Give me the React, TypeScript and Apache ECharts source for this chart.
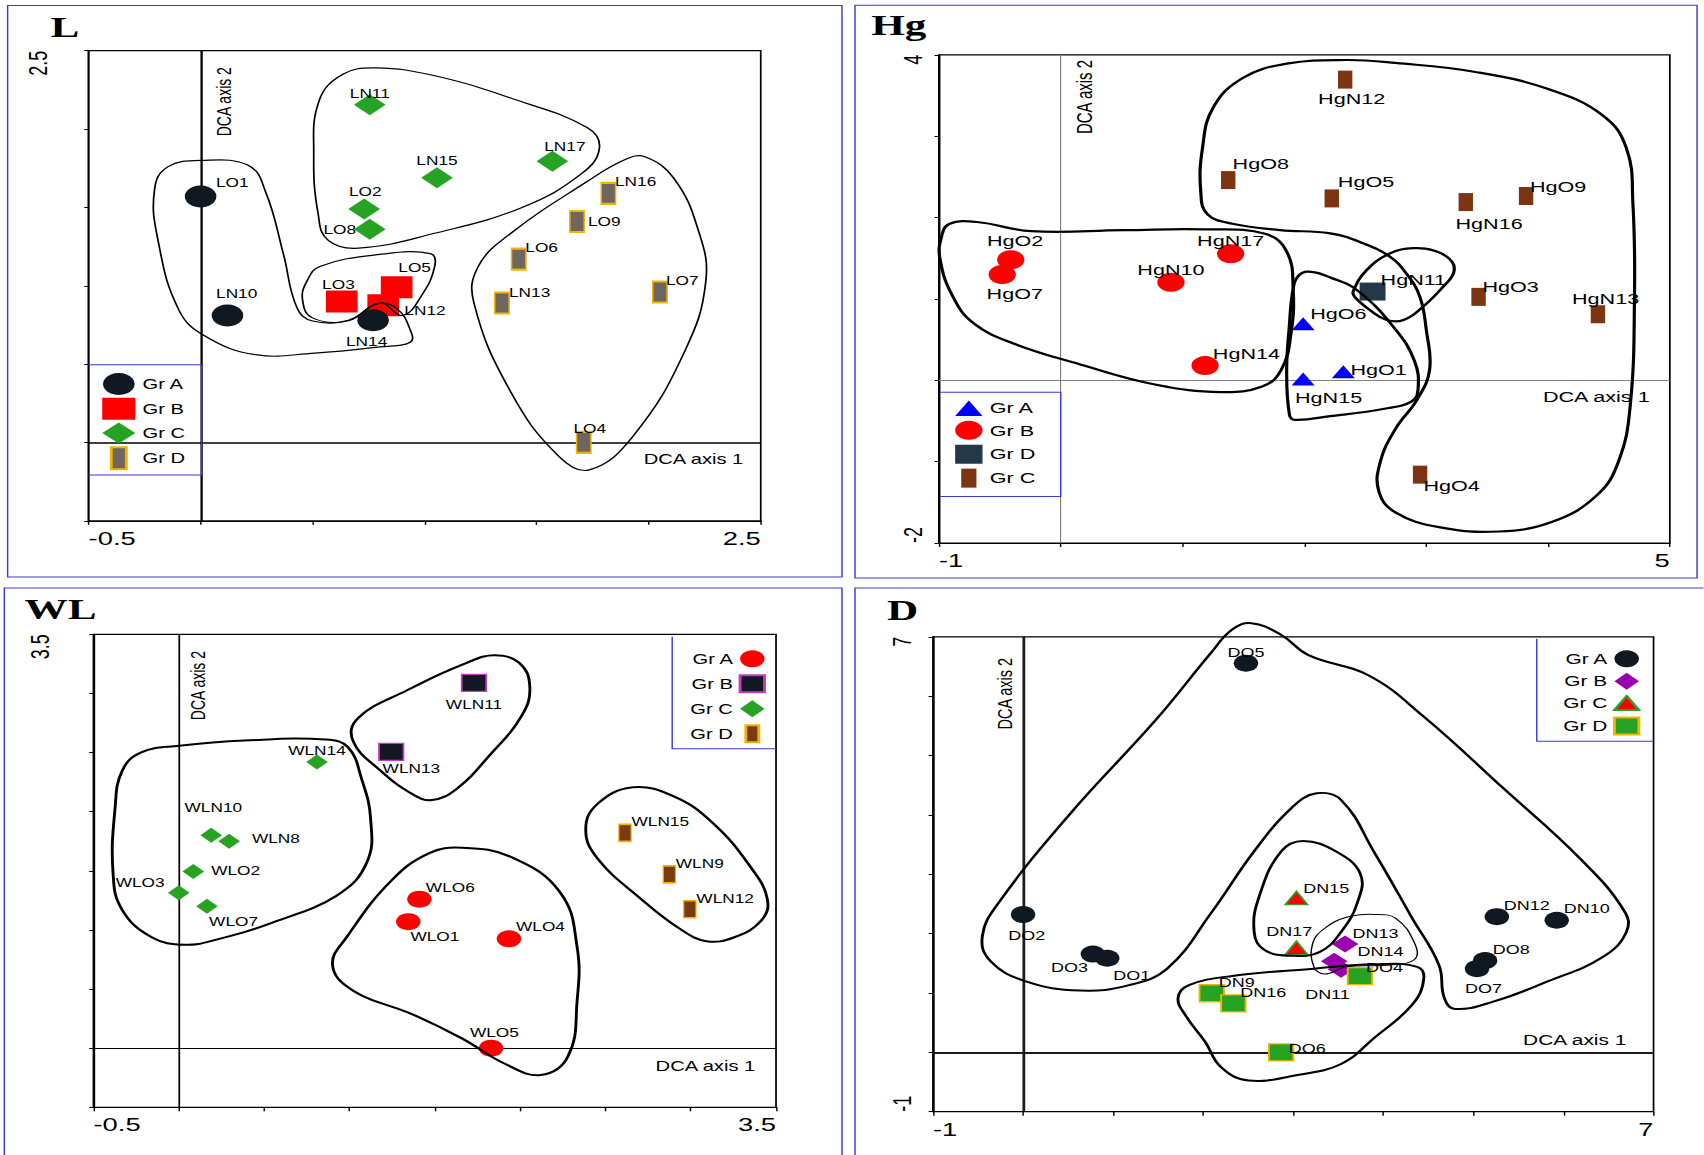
import React, { useEffect, useRef } from 'react';
import * as echarts from 'echarts';

// The reference figure is horizontally stretched; the chart is drawn at a narrower
// internal width and stretched back with a CSS scaleX.
const S = 1.44;
const PAGE_W = 1704;
const PAGE_H = 1155;
const IW = PAGE_W / S;

const FONT = "'Liberation Sans', Arial, Helvetica, sans-serif";
const SERIF = "'Liberation Serif', 'Times New Roman', serif";

type Pt = [string, number, number];
type XY = [number, number];

// ---------------- DATA: panel L ----------------
const L_GR_A: Pt[] = [['LO1', 0.0, 1.57], ['LN10', 0.12, 0.81], ['LN14', 0.77, 0.78]];
const L_GR_B: Pt[] = [['LO3', 0.63, 0.9], ['LO5', 0.875, 0.99], ['LN12', 0.815, 0.875]];
const L_GR_C: Pt[] = [['LN11', 0.755, 2.155], ['LN15', 1.055, 1.69], ['LN17', 1.57, 1.795], ['LO2', 0.73, 1.49], ['LO8', 0.755, 1.36]];
const L_GR_D: Pt[] = [['LN16', 1.82, 1.59], ['LO9', 1.68, 1.41], ['LO6', 1.42, 1.17], ['LN13', 1.345, 0.89], ['LO7', 2.05, 0.96], ['LO4', 1.71, 0.0]];
const L_X_TICKS = ['-0.5', '2.5'];
const L_Y_TICKS = ['', '2.5'];
const L_CONTOURS: XY[][] = [
  [[0.0, 1.8], [0.21, 1.77], [0.29, 1.6], [0.37, 1.2], [0.43, 0.86], [0.5, 0.775], [0.66, 0.78], [0.79, 0.885], [0.875, 0.855], [0.935, 0.72], [0.935, 0.64], [0.8, 0.61], [0.51, 0.57], [0.245, 0.56], [0.025, 0.675], [-0.095, 0.84], [-0.19, 1.29], [-0.205, 1.62], [-0.145, 1.76]],
  [[0.535, 1.125], [0.8, 1.2], [1.025, 1.205], [1.045, 1.125], [0.985, 0.935], [0.9, 0.81], [0.8, 0.89], [0.655, 0.775], [0.5, 0.795], [0.455, 0.91], [0.475, 1.03]],
  [[0.78, 2.39], [1.045, 2.34], [1.41, 2.185], [1.725, 2.01], [1.78, 1.88], [1.7, 1.715], [1.435, 1.5], [1.045, 1.335], [0.705, 1.24], [0.57, 1.29], [0.525, 1.455], [0.505, 1.83], [0.53, 2.185], [0.635, 2.35]],
  [[1.98, 1.825], [2.11, 1.69], [2.22, 1.36], [2.255, 1.03], [2.16, 0.58], [1.93, 0.04], [1.735, -0.175], [1.6, -0.09], [1.385, 0.32], [1.22, 0.89], [1.24, 1.125], [1.385, 1.335], [1.725, 1.665], [1.895, 1.805]],
];

// ---------------- DATA: panel Hg ----------------
const HG_GR_A: Pt[] = [['HgO6', 1.99, 0.695], ['HgN15', 1.99, 0.015], ['HgO1', 2.32, 0.105]];
const HG_GR_B: Pt[] = [['HgO2', -0.41, 1.48], ['HgO7', -0.48, 1.3], ['HgN17', 1.395, 1.555], ['HgN10', 0.905, 1.205], ['HgN14', 1.185, 0.18]];
const HG_GR_D: Pt[] = [['HgN11', 2.56, 1.09]];
const HG_GR_C: Pt[] = [['HgN12', 2.335, 3.695], ['HgO8', 1.375, 2.46], ['HgO5', 2.225, 2.235], ['HgN16', 3.325, 2.19], ['HgO9', 3.82, 2.265], ['HgO3', 3.43, 1.025], ['HgN13', 4.41, 0.81], ['HgO4', 2.95, -1.16]];
const HG_X_TICKS = ['-1', '5'];
const HG_Y_TICKS = ['-2', '4'];
const HG_CONTOURS: XY[][] = [
  [[2.346, 3.936], [2.747, 3.9], [3.416, 3.786], [3.996, 3.582], [4.442, 3.264], [4.643, 2.855], [4.697, 2.173], [4.71, 1.036], [4.674, -0.327], [4.576, -1.009], [4.398, -1.418], [4.041, -1.736], [3.595, -1.859], [3.104, -1.805], [2.747, -1.623], [2.613, -1.373], [2.622, -1.009], [2.747, -0.6], [2.926, -0.236], [3.028, 0.127], [3.001, 0.618], [2.948, 1.027], [2.836, 1.314], [2.703, 1.518], [2.484, 1.682], [2.212, 1.805], [1.801, 1.845], [1.409, 1.923], [1.208, 2.036], [1.15, 2.309], [1.164, 2.855], [1.253, 3.355], [1.498, 3.718], [1.855, 3.891]],
  [[-0.911, 1.923], [-0.688, 1.945], [-0.242, 1.832], [0.517, 1.845], [1.186, 1.855], [1.677, 1.8], [1.855, 1.582], [1.908, 1.127], [1.891, 0.582], [1.81, 0.127], [1.654, -0.077], [1.32, -0.145], [0.784, -0.055], [0.16, 0.195], [-0.375, 0.445], [-0.71, 0.695], [-0.888, 1.036], [-0.991, 1.491], [-0.978, 1.764]],
  [[1.953, 1.286], [2.033, 1.336], [2.212, 1.264], [2.435, 1.105], [2.747, 0.627], [2.903, 0.241], [2.934, -0.1], [2.881, -0.259], [2.658, -0.35], [2.212, -0.441], [1.922, -0.486], [1.877, -0.418], [1.855, 0.127], [1.877, 0.673], [1.908, 1.127]],
  [[2.401, 1.091], [2.511, 1.355], [2.703, 1.559], [2.894, 1.623], [3.086, 1.582], [3.211, 1.459], [3.224, 1.314], [3.14, 1.15], [2.975, 0.905], [2.814, 0.741], [2.676, 0.741], [2.537, 0.864], [2.417, 1.018]],
];

// ---------------- DATA: panel WL ----------------
const WL_GR_A: Pt[] = [['WLO6', 1.41, 1.26], ['WLO1', 1.345, 1.07], ['WLO4', 1.935, 0.925], ['WLO5', 1.83, 0.0]];
const WL_GR_B: Pt[] = [['WLN11', 1.73, 3.09], ['WLN13', 1.245, 2.505]];
const WL_GR_C: Pt[] = [['WLN14', 0.81, 2.42], ['WLN10', 0.19, 1.8], ['WLN8', 0.295, 1.75], ['WLO2', 0.085, 1.495], ['WLO3', 0.0, 1.315], ['WLO7', 0.165, 1.2]];
const WL_GR_D: Pt[] = [['WLN15', 2.615, 1.82], ['WLN9', 2.875, 1.47], ['WLN12', 2.995, 1.175]];
const WL_X_TICKS = ['-0.5', '3.5'];
const WL_Y_TICKS = ['', '3.5'];
const WL_CONTOURS: XY[][] = [
  [[0.003, 2.557], [0.385, 2.601], [0.863, 2.61], [0.99, 2.548], [1.07, 2.284], [1.124, 1.943], [1.102, 1.571], [0.927, 1.292], [0.545, 1.06], [0.226, 0.92], [0.035, 0.874], [-0.156, 0.936], [-0.331, 1.168], [-0.385, 1.478], [-0.373, 2.036], [-0.331, 2.347], [-0.22, 2.502]],
  [[1.85, 3.323], [1.994, 3.261], [2.057, 3.06], [2.01, 2.812], [1.818, 2.471], [1.627, 2.191], [1.484, 2.098], [1.373, 2.145], [1.182, 2.347], [1.022, 2.595], [1.054, 2.796], [1.341, 3.029], [1.691, 3.261]],
  [[1.659, 1.695], [1.946, 1.618], [2.232, 1.323], [2.334, 0.858], [2.334, 0.393], [2.28, -0.072], [2.121, -0.227], [1.914, -0.134], [1.659, 0.083], [1.373, 0.284], [1.022, 0.486], [0.901, 0.703], [0.99, 0.951], [1.245, 1.416], [1.468, 1.649]],
  [[2.662, 2.207], [2.901, 2.129], [3.124, 1.912], [3.347, 1.54], [3.449, 1.261], [3.411, 1.075], [3.252, 0.936], [3.092, 0.905], [2.933, 1.013], [2.71, 1.261], [2.455, 1.602], [2.385, 1.85], [2.455, 2.067]],
];

// ---------------- DATA: panel D ----------------
const D_GR_A: Pt[] = [['DO5', 2.475, 6.555], ['DO2', 0.0, 2.32], ['DO3', 0.775, 1.655], ['DO1', 0.935, 1.585], ['DN12', 5.26, 2.285], ['DN10', 5.925, 2.225], ['DO8', 5.13, 1.545], ['DO7', 5.04, 1.41]];
const D_GR_B: Pt[] = [['DN13', 3.575, 1.825], ['DN14', 3.455, 1.535], ['DN11', 3.53, 1.4]];
const D_GR_C: Pt[] = [['DN15', 3.035, 2.6], ['DN17', 3.035, 1.76]];
const D_GR_D: Pt[] = [['DO4', 3.74, 1.285], ['DN9', 2.095, 0.995], ['DN16', 2.335, 0.825], ['DO6', 2.865, 0.0]];
const D_X_TICKS = ['-1', '7'];
const D_Y_TICKS = ['-1', '7'];
const D_CONTOURS: XY[][] = [
  [[2.535, 7.229], [2.867, 7.031], [3.169, 6.691], [3.833, 6.351], [4.436, 5.672], [5.341, 4.437], [6.185, 3.263], [6.668, 2.398], [6.698, 2.028], [6.427, 1.596], [5.824, 1.194], [5.22, 0.854], [4.798, 0.731], [4.677, 0.916], [4.617, 1.472], [4.315, 2.275], [3.893, 3.387], [3.531, 4.251], [3.259, 4.363], [2.988, 4.128], [2.566, 3.387], [2.083, 2.337], [1.6, 1.41], [1.178, 1.132], [0.635, 1.04], [0.032, 1.194], [-0.36, 1.534], [-0.451, 1.966], [-0.27, 2.522], [0.514, 4.004], [1.48, 5.61], [2.083, 6.722], [2.324, 7.124]],
  [[3.109, 3.56], [3.471, 3.387], [3.742, 3.016], [3.712, 2.522], [3.531, 2.028], [3.29, 1.688], [2.988, 1.626], [2.686, 1.719], [2.566, 2.028], [2.626, 2.645], [2.867, 3.387]],
  [[3.893, 2.324], [4.134, 2.262], [4.345, 1.843], [4.345, 1.565], [4.074, 1.472], [3.591, 1.441], [3.35, 1.318], [3.229, 1.441], [3.217, 1.843], [3.35, 2.09], [3.591, 2.275]],
  [[1.842, 1.132], [2.324, 1.287], [3.229, 1.41], [3.893, 1.484], [4.376, 1.441], [4.448, 1.225], [4.315, 0.792], [3.893, 0.237], [3.531, -0.196], [3.048, -0.381], [2.505, -0.474], [2.204, -0.258], [2.023, 0.175], [1.811, 0.607], [1.721, 0.916]],
];

// ---------------- label placement (internal px offsets from marker centre) ----------------
const LABEL_OFFSET: Record<string, [number, number]> = {
  LO1: [22, -13.7], LN10: [6.4, -21.5], LN14: [-4.5, 22.2], LO3: [-2.3, -16.7], LO5: [12.5, -18.9], LN12: [29, 5.2],
  LN11: [0, -10.4], LN15: [0, -16.7], LN17: [8.7, -14.4], LO2: [0.8, -17.4], LO8: [-20.8, 0.7],
  LN16: [18.9, -11.1], LO9: [18.9, 0], LO6: [15.9, -11.1], LN13: [19.2, -10.4], LO7: [15.5, -11.1], LO4: [4.2, -13.3],
  HgO6: [24.5, -10.4], HgN15: [17.7, 18.9], HgO1: [24.5, -1.9], HgO2: [3, -19.2], HgO7: [8.7, 19.6], HgN17: [0, -12.6],
  HgN10: [0, -12.2], HgN14: [28.7, -12.2], HgN11: [28.3, -12.2], HgN12: [4.5, 19.2], HgO8: [22.6, -16.3], HgO5: [23.8, -17],
  HgN16: [16.2, 21.8], HgO9: [22.3, -9.3], HgO3: [22.3, -10.4], HgN13: [5.3, -15.5], HgO4: [21.9, 10.7],
  WLO6: [21.5, -11], WLO1: [18.5, 15.4], WLO4: [21.9, -11.7], WLO5: [2.3, -15], WLN11: [0, 22], WLN13: [14, 16.9],
  WLN14: [0, -10.6], WLN10: [1.5, -27.1], WLN8: [32.5, -2.6], WLO2: [29.4, 0], WLO3: [-26.8, -9.9], WLO7: [18.5, 15.4],
  WLN15: [24.5, -11], WLN9: [21.1, -10.6], WLN12: [24.5, -10.6],
  DO5: [0, -10.6], DO2: [2.6, 20.9], DO3: [-16.2, 13.6], DO1: [17, 17.6], DN12: [20.8, -11], DN10: [20.8, -11.4],
  DO8: [18.1, -11], DO7: [4.5, 19.8], DN13: [21.1, -10.3], DN14: [32.1, -9.5], DN11: [-9.4, 25.7], DN15: [20.8, -9.2],
  DN17: [-4.9, -15.8], DO4: [17, -8.1], DN9: [17.4, -10.6], DN16: [20.8, -10.6], DO6: [18.1, -3.7],
};

const BLUE = '#3a3ad0';

interface Group {
  name: string; pts: Pt[]; symbol: string; size: number | number[];
  color: string; border?: string; borderWidth?: number; icon: string;
}
interface Panel {
  key: string; title: string; titleXY: XY; border: number[];
  grid: { left: number; top: number; width: number; height: number };
  x: number[]; y: number[]; xTicks: string[]; yTicks: string[]; yMargin: number;
  zeroColor: string; zeroWidth: number; labelSize: number;
  groups: Group[]; draw: string[];
  legend: any; legendBox: XY[];
  contours: XY[][]; contourWidths: number[];
  axis2: XY; axis1: XY; axisFont: number;
}

const DIAMOND = (w: number, h: number) => `path://M${w / 2},0L${w},${h / 2}L${w / 2},${h}L0,${h / 2}Z`;
const TRI = (w: number, h: number) => `path://M${w / 2},0L${w},${h}L0,${h}Z`;
const BAR = (w: number, h: number) => `path://M0,0H${w}V${h}H0Z`;

const PANELS: Panel[] = [
  {
    key: 'L', title: 'L', titleXY: [35, 27], border: [5.3, 5.4, 579.4, 571.6],
    grid: { left: 61.5, top: 50.7, width: 466.8, height: 470.1 },
    x: [-0.5, 2.5, 0.5], y: [-0.5, 2.5, 0.5], xTicks: L_X_TICKS, yTicks: L_Y_TICKS, yMargin: 26,
    zeroColor: '#000', zeroWidth: 1.6, labelSize: 12,
    groups: [
      { name: 'Gr A', pts: L_GR_A, symbol: 'circle', size: 22, color: '#101821', icon: 'circle' },
      { name: 'Gr B', pts: L_GR_B, symbol: 'rect', size: [22, 22], color: '#ff0000', icon: 'rect' },
      { name: 'Gr C', pts: L_GR_C, symbol: 'diamond', size: [22, 21], color: '#27a324', icon: DIAMOND(22, 20) },
      { name: 'Gr D', pts: L_GR_D, symbol: 'rect', size: [10, 21], color: '#6f675f', border: '#f2b400', borderWidth: 1.5, icon: BAR(10, 21) },
    ],
    draw: ['Gr B', 'Gr A', 'Gr C', 'Gr D'],
    legend: { left: 71, top: 373, itemWidth: 23, itemHeight: 22, itemGap: 2.8, fontSize: 14, align: 'left' },
    legendBox: [[61.5, 364.7], [140.1, 364.7], [140.1, 475], [61.5, 475]],
    contours: L_CONTOURS, contourWidths: [1.2, 1.2, 1.2, 1.2],
    axis2: [155.5, 101.7], axis1: [516.2, 458.8], axisFont: 14,
  },
  {
    key: 'Hg', title: 'Hg', titleXY: [605, 25], border: [593.75, 5.2, 584.75, 572.8],
    grid: { left: 652, top: 54.8, width: 507.6, height: 488.2 },
    x: [-1, 5, 1], y: [-2, 4, 1], xTicks: HG_X_TICKS, yTicks: HG_Y_TICKS, yMargin: 9,
    zeroColor: '#808080', zeroWidth: 0.8, labelSize: 15,
    groups: [
      { name: 'Gr A', pts: HG_GR_A, symbol: 'triangle', size: [16, 13], color: '#0000ff', icon: TRI(16, 13) },
      { name: 'Gr B', pts: HG_GR_B, symbol: 'circle', size: 19, color: '#ff0000', icon: 'circle' },
      { name: 'Gr D', pts: HG_GR_D, symbol: 'rect', size: [18, 18], color: '#243849', icon: 'rect' },
      { name: 'Gr C', pts: HG_GR_C, symbol: 'rect', size: [10, 18], color: '#7c3412', icon: BAR(10, 18) },
    ],
    draw: ['Gr B', 'Gr A', 'Gr D', 'Gr C'],
    legend: { left: 663.3, top: 400.5, itemWidth: 19, itemHeight: 19, itemGap: 4.9, fontSize: 15, align: 'left' },
    legendBox: [[652.8, 392.2], [736.6, 392.2], [736.6, 496.5], [652.8, 496.5]],
    contours: HG_CONTOURS, contourWidths: [2.2, 2.2, 2.2, 2.2],
    axis2: [753.2, 97], axis1: [1145.6, 396.3], axisFont: 15,
  },
  {
    key: 'WL', title: 'WL', titleXY: [17, 608.5], border: [3, 588, 581.7, 600],
    grid: { left: 64.9, top: 634.3, width: 474, height: 473 },
    x: [-0.5, 3.5, 0.5], y: [-0.5, 3.5, 0.5], xTicks: WL_X_TICKS, yTicks: WL_Y_TICKS, yMargin: 28,
    zeroColor: '#000', zeroWidth: 1.2, labelSize: 12,
    groups: [
      { name: 'Gr A', pts: WL_GR_A, symbol: 'circle', size: 17, color: '#ff0000', icon: 'circle' },
      { name: 'Gr B', pts: WL_GR_B, symbol: 'rect', size: [17, 17], color: '#111821', border: '#c23cc8', borderWidth: 1.2, icon: 'rect' },
      { name: 'Gr C', pts: WL_GR_C, symbol: 'diamond', size: [15, 15], color: '#27a324', icon: DIAMOND(17, 17) },
      { name: 'Gr D', pts: WL_GR_D, symbol: 'rect', size: [8.5, 17], color: '#7a3a12', border: '#f2b400', borderWidth: 1.2, icon: BAR(9, 17) },
    ],
    draw: ['Gr A', 'Gr B', 'Gr C', 'Gr D'],
    legend: { right: 651.4, top: 650.3, itemWidth: 17, itemHeight: 17, itemGap: 7, fontSize: 14, align: 'right' },
    legendBox: [[466.8, 636.8], [466.8, 748.7], [538.9, 748.7]],
    contours: WL_CONTOURS, contourWidths: [2, 2, 2, 2],
    axis2: [137.7, 685.6], axis1: [524.5, 1066.3], axisFont: 14,
  },
  {
    key: 'D', title: 'D', titleXY: [616, 610.3], border: [593.75, 588, 600, 600],
    grid: { left: 647.9, top: 636.8, width: 500.4, height: 474.9 },
    x: [-1, 7, 1], y: [-1, 7, 1], xTicks: D_X_TICKS, yTicks: D_Y_TICKS, yMargin: 12,
    zeroColor: '#1a1a1a', zeroWidth: 1.9, labelSize: 12.5,
    groups: [
      { name: 'Gr A', pts: D_GR_A, symbol: 'circle', size: 17, color: '#101821', icon: 'circle' },
      { name: 'Gr B', pts: D_GR_B, symbol: 'diamond', size: [18.5, 17], color: '#9b00b0', icon: DIAMOND(17, 17) },
      { name: 'Gr C', pts: D_GR_C, symbol: 'triangle', size: [15.5, 13.5], color: '#ff0000', border: '#2ca02c', borderWidth: 1.3, icon: TRI(17, 14) },
      { name: 'Gr D', pts: D_GR_D, symbol: 'rect', size: [17, 17], color: '#27a324', border: '#f2b400', borderWidth: 1.3, icon: 'rect' },
    ],
    draw: ['Gr A', 'Gr B', 'Gr C', 'Gr D'],
    legend: { right: 44.2, top: 650.3, itemWidth: 17, itemHeight: 17, itemGap: 5.4, fontSize: 14.5, align: 'right' },
    legendBox: [[1067.2, 638.7], [1067.2, 741.3], [1148.3, 741.3]],
    contours: D_CONTOURS, contourWidths: [2, 2, 1, 2],
    axis2: [698, 693.7], axis1: [1129.4, 1040.2], axisFont: 14.5,
  },
];

function tickFormatter(min: number, max: number, labels: string[]) {
  return (v: number) => (Math.abs(v - min) < 1e-9 ? labels[0] : Math.abs(v - max) < 1e-9 ? labels[1] : '');
}

function buildOption() {
  const grid: any[] = [];
  const xAxis: any[] = [];
  const yAxis: any[] = [];
  const series: any[] = [];
  const legend: any[] = [];
  const graphic: any[] = [];

  PANELS.forEach((p, i) => {
    grid.push({ ...p.grid, show: true, borderColor: '#000', borderWidth: 1.2, backgroundColor: 'transparent', containLabel: false, outerBoundsMode: 'none' });
    xAxis.push({
      type: 'value', gridIndex: i, min: p.x[0], max: p.x[1], interval: p.x[2],
      axisLine: { show: true, onZero: false, lineStyle: { color: '#000', width: 1.2 } },
      axisTick: { show: true, inside: false, length: 4, lineStyle: { color: '#000', width: 1 } },
      splitLine: { show: false },
      axisLabel: {
        show: true, formatter: tickFormatter(p.x[0], p.x[1], p.xTicks), fontSize: 19, color: '#000', fontFamily: FONT,
        margin: 8, showMinLabel: true, showMaxLabel: true, alignMinLabel: 'left', alignMaxLabel: 'right', hideOverlap: false,
      },
    });
    yAxis.push({
      type: 'value', gridIndex: i, min: p.y[0], max: p.y[1], interval: p.y[2],
      axisLine: { show: true, onZero: false, lineStyle: { color: '#000', width: 1.2 } },
      axisTick: { show: true, inside: false, length: 3, lineStyle: { color: '#000', width: 1 } },
      splitLine: { show: false },
      axisLabel: {
        show: true, formatter: tickFormatter(p.y[0], p.y[1], p.yTicks), fontSize: 18, color: '#000', fontFamily: FONT,
        rotate: 90, margin: p.yMargin, verticalAlign: 'bottom', showMinLabel: true, showMaxLabel: true,
        alignMinLabel: 'left', alignMaxLabel: 'right', hideOverlap: false,
      },
    });

    // DCA axis lines at 0
    series.push({
      type: 'scatter', name: `${p.key}|zero`, xAxisIndex: i, yAxisIndex: i, data: [], silent: true, z: 1,
      markLine: {
        silent: true, symbol: ['none', 'none'], z: 1, animation: false,
        label: { show: false },
        lineStyle: { color: p.zeroColor, width: p.zeroWidth, type: 'solid' },
        emphasis: { disabled: true },
        data: [{ xAxis: 0 }, { yAxis: 0 }],
      },
    });

    // groups
    p.draw.forEach((gname) => {
      const g = p.groups.find((gg) => gg.name === gname)!;
      const names = g.pts.map((pt) => pt[0]);
      series.push({
        type: 'scatter', name: `${p.key}|${g.name}`, xAxisIndex: i, yAxisIndex: i, z: 3,
        symbol: g.symbol, symbolSize: g.size,
        itemStyle: { color: g.color, borderColor: g.border || g.color, borderWidth: g.borderWidth || 0, opacity: 1 },
        emphasis: { disabled: true },
        label: {
          show: true, position: 'inside', formatter: '{b}', color: '#000', fontSize: p.labelSize,
          fontFamily: FONT, textBorderWidth: 0, textShadowBlur: 0,
        },
        labelLayout: (params: any) => {
          const off = LABEL_OFFSET[names[params.dataIndex]] || [0, 0];
          return { dx: off[0], dy: off[1], hideOverlap: false };
        },
        data: g.pts.map(([n, x, y]) => ({ name: n, value: [x, y] })),
      });
    });

    // contours
    const contours = p.contours;
    const widths = p.contourWidths;
    series.push({
      type: 'custom', name: `${p.key}|contours`, xAxisIndex: i, yAxisIndex: i, coordinateSystem: 'cartesian2d',
      clip: false, silent: true, z: 5,
      data: contours.map((c, k) => [c[0][0], c[0][1], k]),
      renderItem: (_params: any, api: any) => {
        const k = api.value(2);
        const pts = contours[k].map((pt) => api.coord(pt));
        return {
          type: 'polygon', silent: true,
          shape: { points: pts, smooth: 0.42 },
          style: { fill: 'none', stroke: '#000', lineWidth: widths[k] },
        };
      },
    });

    // legend
    const lg = p.legend;
    const leg: any = {
      orient: 'vertical', top: lg.top, itemWidth: lg.itemWidth, itemHeight: lg.itemHeight, itemGap: lg.itemGap,
      align: lg.align, padding: 0, selectedMode: false,
      textStyle: { fontSize: lg.fontSize, color: '#000', fontFamily: FONT },
      formatter: (name: string) => name.split('|')[1],
      data: p.groups.map((g) => ({ name: `${p.key}|${g.name}`, icon: g.icon })),
    };
    if (lg.left !== undefined) leg.left = lg.left;
    if (lg.right !== undefined) leg.right = lg.right;
    legend.push(leg);

    // panel frame
    graphic.push({
      type: 'rect', silent: true, z: 0,
      shape: { x: p.border[0], y: p.border[1], width: p.border[2], height: p.border[3] },
      style: { fill: 'none', stroke: BLUE, lineWidth: 1 },
    });
    graphic.push({
      type: 'polyline', silent: true, z: 10,
      shape: { points: p.legendBox },
      style: { fill: 'none', stroke: BLUE, lineWidth: 1 },
    });
    // title
    graphic.push({
      type: 'text', silent: true, z: 10, x: p.titleXY[0], y: p.titleXY[1],
      style: { text: p.title, fontFamily: SERIF, fontWeight: 'bold', fontSize: 30, fill: '#000', align: 'left', verticalAlign: 'middle' },
    });
    // axis names
    graphic.push({
      type: 'text', silent: true, z: 10, x: p.axis2[0], y: p.axis2[1], rotation: Math.PI / 2,
      style: { text: 'DCA axis 2', fontFamily: FONT, fontSize: p.axisFont, fill: '#000', align: 'center', verticalAlign: 'middle' },
    });
    graphic.push({
      type: 'text', silent: true, z: 10, x: p.axis1[0], y: p.axis1[1],
      style: { text: 'DCA axis 1', fontFamily: FONT, fontSize: p.axisFont, fill: '#000', align: 'right', verticalAlign: 'middle' },
    });
  });

  return {
    animation: false,
    backgroundColor: '#ffffff',
    grid, xAxis, yAxis, series, legend,
    graphic: { elements: graphic },
    tooltip: { show: false },
  };
}

export default function App() {
  const ref = useRef<HTMLDivElement>(null);
  useEffect(() => {
    if (!ref.current) return;
    const chart = echarts.init(ref.current, null, { renderer: 'svg', width: IW, height: PAGE_H });
    chart.setOption(buildOption() as any);
    return () => chart.dispose();
  }, []);
  return (
    <div style={{ position: 'absolute', left: 0, top: 0, width: PAGE_W, height: PAGE_H, overflow: 'hidden', background: '#fff' }}>
      <div ref={ref} style={{ width: IW, height: PAGE_H, transform: `scaleX(${S})`, transformOrigin: '0 0' }} />
    </div>
  );
}
